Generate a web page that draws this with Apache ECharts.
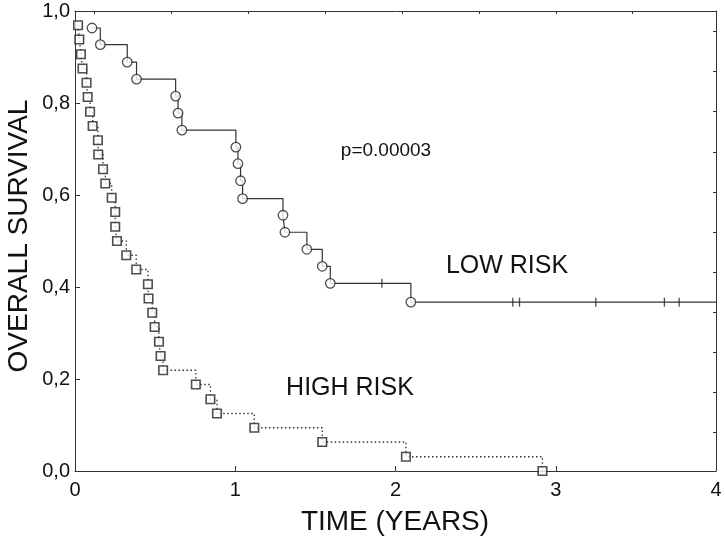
<!DOCTYPE html>
<html>
<head>
<meta charset="utf-8">
<script src="https://cdn.jsdelivr.net/npm/echarts@6/dist/echarts.min.js"></script>
<style>
html,body{margin:0;padding:0;background:#fff;}
#c{width:725px;height:544px;}
</style>
</head>
<body>
<div id="c"></div>
<script>
// ---- data ----
const xMin = 0, xMax = 4, xInterval = 1;
const yMin = 0, yMax = 1, yInterval = 0.2;

// LOW RISK: event times and survival after each event
const lowTimes = [0.106, 0.158, 0.326, 0.384, 0.628, 0.643, 0.667, 1.004, 1.017, 1.033, 1.046, 1.298, 1.310, 1.447, 1.543, 1.593, 2.096];
const lowSurv  = [0.963, 0.927, 0.889, 0.852, 0.815, 0.778, 0.741, 0.704, 0.668, 0.631, 0.592, 0.556, 0.519, 0.482, 0.445, 0.408, 0.367];
// LOW RISK censored observations
const lowCensorTimes = [1.915, 2.732, 2.774, 3.250, 3.678, 3.770];
const lowCensorSurv  = [0.408, 0.367, 0.367, 0.367, 0.367, 0.367];

// HIGH RISK: event times and survival after each event
const highTimes = [0.019, 0.027, 0.037, 0.047, 0.072, 0.079, 0.094, 0.110, 0.143, 0.145, 0.175, 0.189, 0.229, 0.251, 0.251, 0.262,
                   0.320, 0.382, 0.455, 0.459, 0.482, 0.497, 0.524, 0.534, 0.550, 0.754, 0.845, 0.886, 1.119, 1.543, 2.065, 2.917];
const highSurv  = [0.969, 0.938, 0.906, 0.875, 0.844, 0.813, 0.781, 0.750, 0.719, 0.688, 0.656, 0.625, 0.594, 0.563, 0.531, 0.500,
                   0.469, 0.438, 0.406, 0.375, 0.344, 0.313, 0.281, 0.250, 0.219, 0.188, 0.156, 0.125, 0.094, 0.063, 0.031, 0.000];

// secondary frame ticks (top and right edges of the box)
const topTicks = [0.12, 0.60, 1.08, 1.56, 2.04, 2.52, 3.00, 3.48];
const rightTicks = [0.956, 0.869, 0.782, 0.694, 0.607, 0.520, 0.433, 0.346, 0.259, 0.171, 0.084];

const xTitle = 'TIME (YEARS)';
const yTitle = 'OVERALL SURVIVAL';
const pText = 'p=0.00003';
const lowLabel = 'LOW RISK';
const highLabel = 'HIGH RISK';

// ---- build ----
const lowLine = lowTimes.map((t, i) => [t, lowSurv[i]]);
lowLine.push([xMax, lowSurv[lowSurv.length - 1]]);
const lowPts = lowTimes.map((t, i) => [t, lowSurv[i]]);
const lowCens = lowCensorTimes.map((t, i) => [t, lowCensorSurv[i]]);
const highLine = highTimes.map((t, i) => [t, highSurv[i]]);

const FONT = '"Liberation Sans", Arial, sans-serif';
const AX = '#333';

const chart = echarts.init(document.getElementById('c'), null, {renderer: 'canvas'});
chart.setOption({
  animation: false,
  backgroundColor: '#fff',
  grid: {left: 75, right: 9, top: 11, bottom: 73, containLabel: false},
  xAxis: [
    {
      type: 'value', min: xMin, max: xMax, interval: xInterval, position: 'bottom',
      axisLine: {show: true, onZero: false, lineStyle: {color: AX, width: 1}},
      axisTick: {show: true, inside: true, length: 5, lineStyle: {color: AX}},
      axisLabel: {color: '#111', fontFamily: FONT, fontSize: 20, margin: 9},
      splitLine: {show: false}
    },
    {
      type: 'value', min: xMin, max: xMax, position: 'top',
      axisLine: {show: true, onZero: false, lineStyle: {color: AX, width: 1}},
      axisTick: {show: true, inside: true, length: 3, customValues: topTicks, lineStyle: {color: AX}},
      axisLabel: {show: false},
      splitLine: {show: false}
    }
  ],
  yAxis: [
    {
      type: 'value', min: yMin, max: yMax, interval: yInterval, position: 'left',
      axisLine: {show: true, onZero: false, lineStyle: {color: AX, width: 1}},
      axisTick: {show: true, inside: true, length: 5, lineStyle: {color: AX}},
      axisLabel: {color: '#111', fontFamily: FONT, fontSize: 20, margin: 5,
                  formatter: v => v.toFixed(1).replace('.', ',')},
      splitLine: {show: false}
    },
    {
      type: 'value', min: yMin, max: yMax, position: 'right',
      axisLine: {show: true, onZero: false, lineStyle: {color: AX, width: 1}},
      axisTick: {show: true, inside: true, length: 3, customValues: rightTicks, lineStyle: {color: AX}},
      axisLabel: {show: false},
      splitLine: {show: false}
    }
  ],
  series: [
    {
      name: 'LOW RISK line', type: 'line', step: 'end', data: lowLine,
      showSymbol: false, symbol: 'none',
      lineStyle: {color: '#333', width: 1.2}, z: 2
    },
    {
      name: 'HIGH RISK line', type: 'line', step: 'end', data: highLine,
      showSymbol: false, symbol: 'none',
      lineStyle: {color: '#333', width: 1.3, type: [1.5, 2.5]}, z: 2
    },
    {
      name: 'LOW RISK events', type: 'scatter', data: lowPts,
      symbol: 'circle', symbolSize: 9.5,
      itemStyle: {color: '#fff', borderColor: '#222', borderWidth: 1.3}, z: 4
    },
    {
      name: 'HIGH RISK events', type: 'scatter', data: highLine,
      symbol: 'rect', symbolSize: 8.5,
      itemStyle: {color: '#fff', borderColor: '#222', borderWidth: 1.6}, z: 4
    },
    {
      name: 'LOW RISK censored', type: 'scatter', data: lowCens,
      symbol: 'rect', symbolSize: [1.3, 9],
      itemStyle: {color: '#222'}, z: 3
    }
  ],
  graphic: [
    {type: 'text', z: 10, x: 395, y: 522,
     style: {text: xTitle, font: '28px ' + FONT, fill: '#111', textAlign: 'center', textVerticalAlign: 'middle'}},
    {type: 'text', z: 10, x: 19, y: 236, rotation: Math.PI / 2,
     style: {text: yTitle, font: '28px ' + FONT, fill: '#111', textAlign: 'center', textVerticalAlign: 'middle'}},
    {type: 'text', z: 10, x: 386, y: 151,
     style: {text: pText, font: '19px ' + FONT, fill: '#111', textAlign: 'center', textVerticalAlign: 'middle'}},
    {type: 'text', z: 10, x: 507, y: 266,
     style: {text: lowLabel, font: '25px ' + FONT, fill: '#111', textAlign: 'center', textVerticalAlign: 'middle'}},
    {type: 'text', z: 10, x: 350, y: 388,
     style: {text: highLabel, font: '25px ' + FONT, fill: '#111', textAlign: 'center', textVerticalAlign: 'middle'}}
  ]
});
</script>
</body>
</html>
